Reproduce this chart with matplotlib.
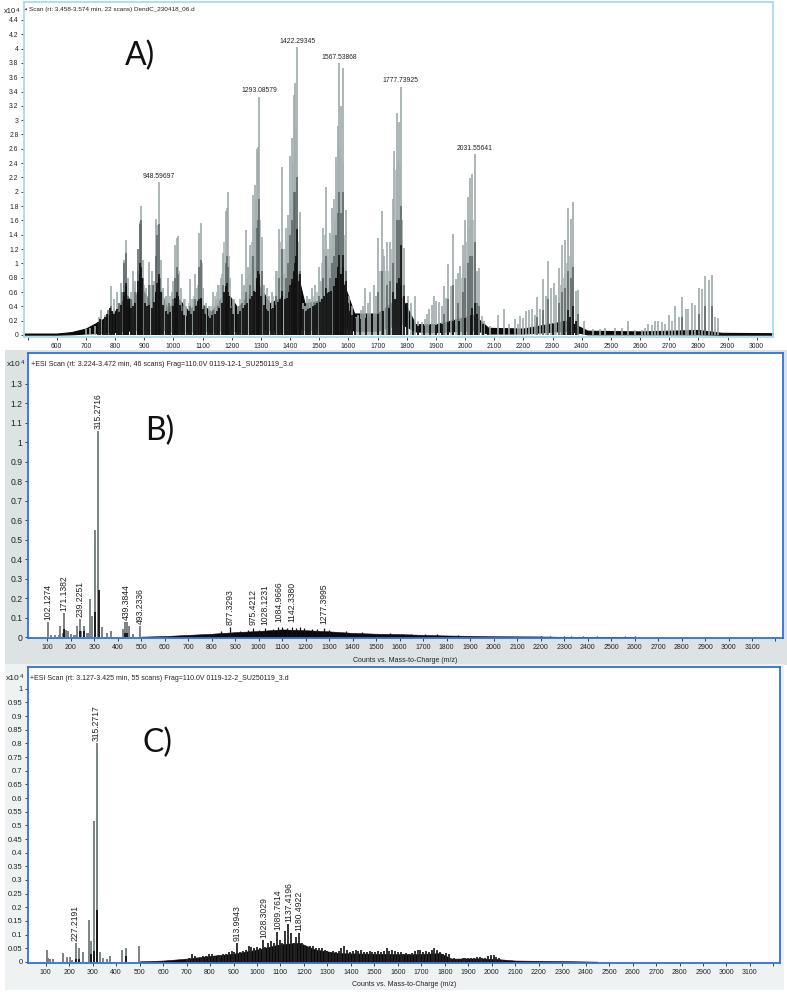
#!/usr/bin/env python3

import matplotlib
matplotlib.use('Agg')
import matplotlib.pyplot as plt
import matplotlib.ticker as ticker
from matplotlib.patches import Rectangle

W, H = 787, 992

# panel A: tall grey stems
a_mz = [700, 715, 730, 745, 752, 765, 775, 785, 795, 806, 815, 822, 830, 838, 845, 855, 862, 870, 878, 885, 890, 895, 905,
        915, 922, 928, 935, 941, 945, 950, 958, 966, 975, 983, 994, 1000, 1006, 1011, 1017, 1025, 1035, 1045, 1057, 1066,
        1074, 1080, 1087, 1095, 1103, 1112, 1122, 1137, 1146, 1154, 1162, 1171, 1179, 1183, 1187, 1195, 1207, 1220, 1234,
        1241, 1248, 1256, 1263, 1269, 1274, 1280, 1286, 1291, 1294, 1304, 1312, 1320, 1329, 1337, 1351, 1361, 1373, 1379,
        1385, 1393, 1401, 1408, 1414, 1418, 1424, 1433, 1446, 1452, 1459, 1466, 1474, 1486, 1499, 1505, 1512, 1518, 1524,
        1530, 1537, 1545, 1551, 1557, 1563, 1569, 1576, 1583, 1592, 1602, 1611, 1626, 1634, 1642, 1650, 1658, 1666, 1674,
        1688, 1695, 1702, 1715, 1723, 1731, 1742, 1752, 1758, 1766, 1773, 1779, 1785, 1792, 1804, 1814, 1829, 1840, 1851,
        1863, 1871, 1878, 1886, 1895, 1902, 1911, 1920, 1927, 1935, 1943, 1951, 1959, 1968, 1976, 1984, 1993, 2001, 2009,
        2017, 2025, 2033, 2041, 2048, 2057, 2066, 2086, 2114, 2133, 2151, 2171, 2181, 2190, 2199, 2209, 2219, 2229, 2239,
        2247, 2258, 2268, 2277, 2286, 2295, 2304, 2313, 2323, 2333, 2343, 2353, 2362, 2371, 2381, 2389, 2407, 2440, 2463,
        2480, 2514, 2537, 2560, 2583, 2606, 2617, 2629, 2640, 2651, 2663, 2674, 2686, 2698, 2709, 2720, 2732, 2743, 2756,
        2766, 2777, 2787, 2801, 2812, 2823, 2835, 2846, 2857, 2869]
a_int = [0.08, 0.1, 0.13, 0.25, 0.35, 0.28, 0.3, 0.68, 0.5, 0.6, 0.45, 0.72, 1.05, 1.32, 0.8, 0.6, 0.9, 0.75, 0.9, 1.58, 1.8, 1.05, 0.65,
         1.02, 0.7, 0.9, 0.75, 1.62, 1.53, 2.13, 1.05, 0.65, 0.55, 0.8, 0.6, 0.75, 1.25, 1.35, 1.38, 0.65, 0.5, 0.4, 0.78, 0.5,
         0.85, 0.65, 1.42, 1.57, 0.65, 0.45, 0.4, 0.6, 0.5, 0.7, 0.8, 1.15, 1.73, 1.78, 2.0, 0.8, 0.5, 0.4, 0.85,
         0.7, 1.47, 0.95, 1.25, 1.1, 1.95, 2.1, 2.6, 2.62, 3.33, 1.37, 0.7, 0.65, 0.55, 0.6, 0.9, 1.48, 2.35, 0.85,
         1.5, 1.68, 2.5, 2.75, 3.35, 3.52, 4.02, 1.72, 0.45, 0.4, 0.55, 0.5, 0.65, 0.7, 0.95, 0.75, 1.5, 1.05, 2.07,
         1.2, 1.43, 1.78, 1.9, 2.48, 2.92, 3.8, 3.2, 3.73, 1.75, 0.55, 0.4, 0.25, 0.28, 0.35, 0.4, 0.65, 0.45, 0.6,
         0.7, 0.55, 1.36, 1.73, 1.1, 1.3, 1.3, 1.9, 2.57, 3.1, 2.98, 3.47, 1.6, 1.21, 0.55, 0.45, 0.54, 0.2, 0.18,
         0.22, 0.3, 0.36, 0.42, 0.54, 0.48, 0.46, 0.4, 0.68, 0.52, 0.99, 0.68, 1.41, 0.78, 0.87, 0.97, 1.25, 1.6, 1.93,
         2.19, 2.25, 2.53, 0.89, 0.93, 0.26, 0.2, 0.12, 0.28, 0.36, 0.16, 0.22, 0.16, 0.27, 0.24, 0.34, 0.35, 0.36, 0.28,
         0.53, 0.36, 0.78, 0.55, 1.03, 0.66, 0.72, 0.56, 0.93, 1.25, 1.33, 1.77, 1.62, 1.86, 0.62, 0.63, 0.2, 0.08, 0.08,
         0.1, 0.1, 0.1, 0.2, 0.07, 0.07, 0.1, 0.16, 0.14, 0.2, 0.19, 0.18, 0.16, 0.28, 0.2, 0.4, 0.25, 0.53, 0.36,
         0.36, 0.44, 0.42, 0.65, 0.64, 0.82, 0.77, 0.84, 0.25, 0.24]

# panel A: lower grey stems between the tall ones
a_fill_mz = [860, 868, 874, 900, 910, 925, 936, 965, 972, 988,
             1002, 1021, 1040, 1052, 1062, 1070, 1083, 1099, 1128, 1142,
             1150, 1158, 1166, 1175, 1190, 1203, 1227, 1238, 1252, 1259,
             1266, 1271, 1277, 1283, 1289, 1298, 1308, 1342, 1356, 1367,
             1381, 1389, 1397, 1405, 1411, 1416, 1421, 1428, 1470, 1480,
             1492, 1508, 1515, 1521, 1527, 1534, 1541, 1548, 1554, 1560,
             1566, 1572, 1580, 1588, 1708, 1719, 1727, 1737, 1747, 1755,
             1762, 1769, 1776, 1782, 1989, 1997, 2005, 2013, 2021, 2029,
             2329, 2338, 2348, 2358, 2366]
a_fill_int = [0.7, 0.65, 0.6, 0.7, 0.55, 0.6, 0.7, 0.6, 0.5, 0.55,
              0.6, 0.9, 0.5, 0.45, 0.5, 0.55, 0.7, 1.0, 0.4, 0.55,
              0.6, 0.7, 0.85, 1.3, 1.1, 0.5, 0.5, 0.6, 0.8, 0.85,
              1.0, 1.3, 1.5, 1.9, 2.1, 1.6, 0.7, 0.55, 0.9, 1.3,
              1.2, 1.3, 1.5, 1.9, 2.4, 2.6, 2.9, 1.3, 0.5, 0.55,
              0.6, 1.0, 1.2, 1.4, 1.0, 0.95, 1.2, 1.4, 1.6, 2.0,
              2.4, 2.6, 2.4, 1.4, 0.9, 1.2, 0.9, 0.9, 1.2, 1.7,
              2.3, 2.4, 2.4, 1.8, 0.8, 1.0, 1.3, 1.5, 1.6, 1.6,
              0.7, 0.8, 1.0, 1.1, 1.0]

# panel A: darker parts of the same stems
a_mid_mz = [775, 785, 795, 815, 825, 832, 838, 845, 855, 870, 880, 885, 890, 895, 915, 930, 941, 945, 950, 955, 985, 1000, 1006, 1011,
            1017, 1030, 1057, 1074, 1087, 1095, 1105, 1137, 1154, 1171, 1179, 1183, 1187, 1200, 1234, 1248, 1263, 1274, 1286,
            1291, 1294, 1304, 1320, 1351, 1361, 1373, 1385, 1393, 1401, 1408, 1414, 1418, 1424, 1433, 1459, 1486, 1499, 1512,
            1524, 1537, 1545, 1551, 1557, 1563, 1569, 1576, 1583, 1592, 1602, 1702, 1715, 1731, 1742, 1752, 1766, 1773, 1779,
            1792, 1927, 1943, 1959, 1976, 1993, 2001, 2009, 2017, 2025, 2033, 2041, 2048, 2247, 2268, 2286, 2323, 2333, 2343,
            2353, 2362, 2371, 2389, 2743, 2801, 2823, 2846]
a_mid_int = [0.35, 0.4, 0.3, 0.45, 0.6, 1.0, 1.15, 0.55, 0.5, 0.6, 1.2, 1.55, 1.6, 0.8, 0.7, 0.7, 1.1, 1.4, 1.55, 0.8, 0.45, 0.5, 0.8, 0.95,
             0.85, 0.4, 0.4, 0.5, 0.95, 1.05, 0.4, 0.35, 0.4, 0.7, 1.0, 1.1, 0.95, 0.4, 0.45, 0.6, 0.7, 1.1, 1.5,
             1.6, 1.9, 0.9, 0.35, 0.55, 0.8, 1.2, 0.8, 1.0, 1.4, 1.6, 2.0, 2.0, 2.2, 0.9, 0.35, 0.45, 0.55, 0.8,
             1.1, 0.8, 1.0, 1.1, 1.4, 1.7, 2.0, 1.7, 2.0, 0.9, 0.35, 0.6, 0.9, 0.7, 0.75, 1.0, 1.6, 1.6, 1.8,
             0.7, 0.3, 0.5, 0.7, 0.45, 0.6, 0.8, 1.0, 1.1, 1.1, 1.3, 0.45, 0.4, 0.25, 0.35, 0.5, 0.45, 0.6, 0.65,
             0.9, 0.8, 0.95, 0.3, 0.25, 0.3, 0.4, 0.4]

# panel A: black stems making up the rough top of the baseline band
a_jag_mz = [740, 750, 758, 766, 774, 782, 790, 798, 806, 814,
            822, 830, 838, 846, 854, 862, 870, 878, 886, 894,
            902, 910, 918, 926, 934, 942, 950, 958, 966, 974,
            982, 990, 998, 1006, 1014, 1022, 1030, 1038, 1046, 1054,
            1062, 1070, 1078, 1086, 1094, 1102, 1110, 1118, 1126, 1134,
            1142, 1150, 1158, 1166, 1174, 1182, 1190, 1198, 1206, 1214,
            1222, 1230, 1238, 1246, 1254, 1262, 1270, 1278, 1286, 1294,
            1302, 1310, 1318, 1326, 1334, 1342, 1350, 1358, 1366, 1374,
            1382, 1390, 1398, 1406, 1414, 1422, 1430, 1438, 1446, 1454,
            1462, 1470, 1478, 1486, 1494, 1502, 1510, 1518, 1526, 1534,
            1542, 1550, 1558, 1566, 1574, 1582, 1590, 1598, 1606, 1614,
            1622, 1640, 1660, 1680, 1700, 1720, 1740, 1760, 1780, 1800,
            1820, 1840, 1860, 1880, 1900, 1920, 1940, 1960, 1980, 2000,
            2020, 2040, 2060, 2080, 2300, 2340, 2360, 2380]
a_jag_int = [0.18, 0.22, 0.2, 0.25, 0.3, 0.38, 0.34, 0.3, 0.36, 0.32,
             0.42, 0.55, 0.68, 0.5, 0.38, 0.4, 0.45, 0.6, 0.85, 0.8,
             0.45, 0.4, 0.42, 0.38, 0.46, 0.6, 0.78, 0.6, 0.42, 0.34,
             0.3, 0.32, 0.4, 0.52, 0.55, 0.42, 0.34, 0.28, 0.26, 0.34,
             0.3, 0.34, 0.4, 0.48, 0.5, 0.36, 0.3, 0.26, 0.24, 0.28,
             0.3, 0.34, 0.38, 0.45, 0.6, 0.68, 0.55, 0.38, 0.3, 0.28,
             0.3, 0.34, 0.38, 0.42, 0.44, 0.5, 0.55, 0.62, 0.8, 0.8,
             0.55, 0.42, 0.36, 0.34, 0.36, 0.38, 0.42, 0.46, 0.5, 0.55,
             0.5, 0.52, 0.6, 0.72, 0.9, 1.1, 0.75, 0.45, 0.36, 0.34,
             0.36, 0.38, 0.4, 0.42, 0.45, 0.46, 0.5, 0.55, 0.58, 0.6,
             0.62, 0.68, 0.8, 0.95, 0.85, 0.95, 0.7, 0.45, 0.34, 0.28,
             0.24, 0.22, 0.24, 0.26, 0.3, 0.34, 0.38, 0.5, 0.7, 0.45,
             0.2, 0.13, 0.13, 0.14, 0.14, 0.16, 0.18, 0.2, 0.2, 0.24,
             0.28, 0.3, 0.16, 0.1, 0.16, 0.2, 0.25, 0.2]

a_core_mz = [832, 838, 845, 880, 885, 890, 941, 945, 950, 1006, 1011, 1017, 1087, 1095, 1179, 1183, 1187, 1280, 1286, 1291, 1294, 1373,
             1401, 1408, 1414, 1418, 1424, 1433, 1524, 1557, 1563, 1569, 1576, 1583, 1592, 1752, 1766, 1773, 1779, 1792, 2025,
             2033, 2353, 2371]
a_core_int = [0.6, 0.72, 0.45, 0.75, 1.0, 0.95, 0.6, 0.72, 0.85, 0.45, 0.6, 0.55, 0.5, 0.52, 0.65, 0.72, 0.6, 0.6, 0.75, 0.9, 0.85, 0.62,
              0.7, 0.78, 0.85, 1.0, 1.48, 0.85, 0.65, 0.8, 0.9, 1.12, 0.85, 1.12, 0.75, 0.6, 0.72, 0.8, 1.25, 0.55, 0.38,
              0.45, 0.35, 0.4]

# panel A: black band along the baseline
a_band_mz = [488, 600, 650, 700, 750, 780, 800, 840, 860, 885, 920, 950, 980, 1015, 1050, 1090, 1130, 1180, 1220, 1290, 1330, 1380, 1420,
             1450, 1500, 1570, 1620, 1700, 1780, 1830, 1900, 2030, 2080, 2200, 2350, 2420, 2600, 2800, 2880, 3056]
a_band_top = [0.02, 0.02, 0.04, 0.09, 0.2, 0.28, 0.33, 0.56, 0.42, 0.7, 0.45, 0.68, 0.36, 0.52, 0.34, 0.46, 0.32, 0.62, 0.38, 0.72, 0.44, 0.55, 0.95,
              0.44, 0.48, 0.88, 0.3, 0.3, 0.55, 0.15, 0.15, 0.28, 0.1, 0.09, 0.2, 0.06, 0.05, 0.07, 0.03, 0.025]
a_band_low = [0.005, 0.005, 0.01, 0.02, 0.03, 0.04, 0.04, 0.07, 0.05, 0.09, 0.06, 0.1, 0.05, 0.07, 0.05, 0.07, 0.05, 0.08, 0.05, 0.09, 0.07, 0.08,
              0.13, 0.07, 0.08, 0.14, 0.06, 0.06, 0.16, 0.05, 0.04, 0.07, 0.02, 0.02, 0.06, 0.01, 0.01, 0.01, 0.005, 0.005]

a_labels = ['948.59697', '1293.08579', '1422.29345', '1567.53868', '1777.73925', '2031.55641']
a_label_mz = [950, 1294, 1424, 1569, 1779, 2033]
a_label_int = [2.13, 3.33, 4.02, 3.8, 3.47, 2.53]

# panel B
b_mz = [102, 115, 135, 148, 155, 165, 171, 178, 189, 200, 212, 222, 228, 239, 245, 258, 268, 275, 284, 292, 303, 316, 331, 353, 371, 421,
        431, 441, 449, 466, 494]
b_int = [0.08, 0.01, 0.01, 0.01, 0.055, 0.02, 0.125, 0.035, 0.03, 0.015, 0.01, 0.012, 0.06, 0.095, 0.03, 0.06, 0.02, 0.02, 0.195, 0.11,
         0.55, 1.06, 0.05, 0.02, 0.03, 0.04, 0.08, 0.08, 0.055, 0.015, 0.055]
b_dark_mz = [171, 239, 258, 303, 319, 431, 441]
b_dark_int = [0.04, 0.03, 0.03, 0.13, 0.24, 0.02, 0.02]
b_band_mz = [500, 600, 700, 800, 900, 1000, 1100, 1200, 1300, 1400, 1500, 1600, 1700, 1800, 1900, 2000, 2200, 2300, 2500, 2600]
b_band_int = [0.003, 0.006, 0.012, 0.018, 0.026, 0.032, 0.04, 0.036, 0.03, 0.022, 0.018, 0.016, 0.012, 0.009, 0.007, 0.005, 0.004, 0.002,
              0.001, 0.0]
b_spike_mz = [840, 877, 920, 955, 975, 1000, 1028, 1060, 1084, 1100, 1120, 1142, 1160, 1177, 1195, 1225, 1250, 1277, 1300, 1370,
              1440, 1560, 1650, 1710, 1760, 1850, 2200, 2240, 2300, 2330, 2380, 2440, 2560, 2600, 2840, 2890]
b_spike_int = [0.03, 0.05, 0.032, 0.035, 0.045, 0.037, 0.045, 0.042, 0.052, 0.05, 0.045, 0.05, 0.045, 0.052, 0.048, 0.04, 0.04, 0.045, 0.036,
               0.032, 0.025, 0.022, 0.018, 0.016, 0.014, 0.01, 0.005, 0.005, 0.004, 0.004, 0.004, 0.004, 0.004, 0.004, 0.003, 0.003]
b_labels = ['102.1274', '171.1382', '239.2251', '315.2716', '439.3844', '493.2336', '877.3293', '975.4212', '1028.1231', '1084.9666',
            '1142.3380', '1277.3995']
b_label_mz = [102, 171, 239, 316, 436, 494, 877, 975, 1028, 1084, 1142, 1277]
b_label_int = [0.08, 0.125, 0.095, 1.06, 0.08, 0.055, 0.05, 0.05, 0.05, 0.065, 0.065, 0.055]

# panel C
c_mz = [104, 111, 118, 133, 175, 189, 204, 212, 229, 242, 260, 286, 293, 306, 318, 333, 346, 363, 374, 424, 442, 496]
c_int = [0.043, 0.015, 0.012, 0.012, 0.032, 0.018, 0.018, 0.008, 0.07, 0.05, 0.037, 0.152, 0.078, 0.515, 0.8, 0.037, 0.015, 0.01, 0.02,
         0.042, 0.05, 0.057]
c_dark_mz = [229, 242, 293, 306, 318, 442]
c_dark_int = [0.012, 0.012, 0.03, 0.04, 0.19, 0.02]
c_band_mz = [500, 600, 700, 800, 900, 1000, 1100, 1180, 1250, 1350, 1500, 1650, 1780, 1830, 1950, 2030, 2100, 2300, 2450]
c_band_int = [0.002, 0.005, 0.012, 0.022, 0.03, 0.045, 0.065, 0.07, 0.045, 0.032, 0.03, 0.028, 0.032, 0.012, 0.013, 0.01, 0.005, 0.003, 0.001]
c_spike_mz = [700, 712, 724, 736, 748, 760, 772, 784, 796, 808,
              820, 832, 844, 856, 868, 880, 892, 904, 916, 928,
              940, 952, 964, 976, 988, 1000, 1012, 1024, 1036, 1048,
              1060, 1072, 1084, 1096, 1108, 1120, 1132, 1144, 1156, 1168,
              1180, 1192, 1204, 1216, 1228, 1240, 1252, 1264, 1276, 1288,
              1300, 1312, 1324, 1336, 1348, 1360, 1372, 1384, 1396, 1408,
              1420, 1432, 1444, 1456, 1468, 1480, 1492, 1504, 1516, 1528,
              1540, 1552, 1564, 1576, 1588, 1600, 1612, 1624, 1636, 1648,
              1660, 1672, 1684, 1696, 1708, 1720, 1732, 1744, 1756, 1768,
              1780, 1792, 1804, 1816, 1828, 1840, 1852, 1864, 1876, 1888,
              1900, 1912, 1924, 1936, 1948, 1960, 1972, 1984, 1996, 2008,
              2020, 2032, 2044]
c_spike_int = [0.012, 0.016, 0.028, 0.02, 0.016, 0.016, 0.02, 0.022, 0.03, 0.028,
               0.022, 0.024, 0.02, 0.03, 0.028, 0.036, 0.04, 0.035, 0.07, 0.038,
               0.04, 0.045, 0.06, 0.055, 0.05, 0.055, 0.05, 0.08, 0.055, 0.07,
               0.075, 0.07, 0.11, 0.08, 0.07, 0.115, 0.14, 0.105, 0.07, 0.09,
               0.105, 0.07, 0.06, 0.055, 0.058, 0.06, 0.05, 0.05, 0.05, 0.045,
               0.04, 0.038, 0.04, 0.035, 0.04, 0.05, 0.058, 0.045, 0.035, 0.04,
               0.042, 0.04, 0.042, 0.038, 0.035, 0.04, 0.035, 0.038, 0.04, 0.035,
               0.04, 0.052, 0.04, 0.045, 0.04, 0.036, 0.038, 0.03, 0.032, 0.03,
               0.034, 0.04, 0.042, 0.045, 0.035, 0.04, 0.038, 0.045, 0.05, 0.045,
               0.036, 0.03, 0.034, 0.03, 0.012, 0.014, 0.012, 0.012, 0.014, 0.014,
               0.014, 0.014, 0.016, 0.018, 0.018, 0.016, 0.014, 0.022, 0.026, 0.024,
               0.018, 0.014, 0.008]
c_labels = ['227.2191', '315.2717', '913.9943', '1028.3029', '1089.7614', '1137.4196', '1180.4922']
c_label_mz = [227, 316, 914, 1028, 1089, 1137, 1180]
c_label_int = [0.07, 0.8, 0.07, 0.08, 0.11, 0.14, 0.105]

a_yticks = [0, 0.2, 0.4, 0.6, 0.8, 1, 1.2, 1.4, 1.6, 1.8, 2, 2.2, 2.4, 2.6, 2.8, 3, 3.2, 3.4, 3.6, 3.8, 4, 4.2, 4.4]
b_yticks = [0, 0.1, 0.2, 0.3, 0.4, 0.5, 0.6, 0.7, 0.8, 0.9, 1, 1.1, 1.2, 1.3]
c_yticks = [0, 0.05, 0.1, 0.15, 0.2, 0.25, 0.3, 0.35, 0.4, 0.45, 0.5, 0.55, 0.6, 0.65, 0.7, 0.75, 0.8, 0.85, 0.9, 0.95, 1]

sans = ['Liberation Sans', 'DejaVu Sans']


def px(size):
    # font size in points for a height in pixels at 100 dpi
    return size * 0.72


def panel_axes(fig, left, top, right, bottom, xlim, ylim, frame, xticks, xlabels, yticks, xsize, ysize):
    ax = fig.add_axes([left / W, 1 - bottom / H, (right - left) / W, (bottom - top) / H])
    ax.set_xlim(xlim)
    ax.set_ylim(ylim)
    ax.patch.set_facecolor('white')
    for spine in ax.spines.values():
        spine.set_color(frame)
        spine.set_linewidth(1.3)
    ax.set_xticks(xticks)
    ax.set_xticklabels(xlabels, family=sans)
    ax.set_yticks(yticks)
    ax.yaxis.set_major_formatter(ticker.FormatStrFormatter('%g'))
    ax.tick_params(length=2.5, width=0.6, color='#222222', labelcolor='#222222', pad=1.5)
    ax.tick_params(axis='x', labelsize=px(xsize))
    ax.tick_params(axis='y', labelsize=px(ysize))
    for label in ax.get_yticklabels():
        label.set_family(sans)
    return ax


def background(fig, x0, y0, x1, y1, color):
    fig.add_artist(Rectangle((x0 / W, 1 - y1 / H), (x1 - x0) / W, (y1 - y0) / H, transform=fig.transFigure,
                             facecolor=color, edgecolor='none', zorder=-5))


def stems(ax, mz, values, color, width):
    ax.vlines(mz, 0, values, colors=color, linewidth=width)


def labels(ax, texts, mz, values, rotation, size):
    for text, x, y in zip(texts, mz, values):
        ax.annotate(text, (x, y), xytext=(0, 1.5), textcoords='offset points', ha='center', va='bottom',
                    rotation=rotation, family=sans, fontsize=px(size), color='#222222')


fig = plt.figure(figsize=(W / 100, H / 100), dpi=100)
fig.patch.set_facecolor('white')

background(fig, 5, 350, 787, 665, '#dde3e3')
background(fig, 5, 664, 784, 990, '#eff2f2')

hundreds = list(range(100, 3300, 100))


# panel A

ax = panel_axes(fig, 24, 2, 773, 337, (488, 3056), (-0.028, 4.65), '#a9d9f2',
                list(range(500, 3100, 100)), [''] + [str(v) for v in range(600, 3100, 100)], a_yticks, 6.8, 6.8)
stems(ax, a_mz, a_int, '#a0aaaa', 1.2)
stems(ax, a_fill_mz, a_fill_int, '#a8b1b1', 1.1)
stems(ax, a_mid_mz, a_mid_int, '#5a6464', 1.1)
stems(ax, a_jag_mz, a_jag_int, '#111111', 1.3)
stems(ax, a_core_mz, a_core_int, '#111111', 1.2)
ax.fill_between(a_band_mz, a_band_low, a_band_top, color='#0a0a0a', linewidth=0.8)
labels(ax, a_labels, a_label_mz, a_label_int, 0, 6.8)
fig.text(25 / W, 1 - 10 / H, '▪ Scan (rt: 3.458-3.574 min, 22 scans) DendC_230418_06.d', family=sans,
         fontsize=px(6.4), color='#222222', va='center')
fig.text(4 / W, 1 - 11.5 / H, 'x10', family=sans, fontsize=px(7.5), color='#222222', va='center')
fig.text(16 / W, 1 - 10 / H, '4', family=sans, fontsize=px(6), color='#222222', va='center')
fig.text(125 / W, 1 - 65 / H, 'A)', family='Lato', fontsize=23, color='#111111', va='baseline')


# panel B

ax = panel_axes(fig, 28, 353, 783, 638, (18, 3232), (-0.004, 1.458), '#2f6fdc',
                hundreds, [str(v) for v in hundreds[:-1]] + [''], b_yticks, 7.0, 8.6)
ax.fill_between(b_band_mz, 0, b_band_int, color='#0a0a0a', linewidth=0.4)
stems(ax, b_spike_mz, b_spike_int, '#111111', 0.9)
stems(ax, b_mz, b_int, '#707b7b', 1.3)
stems(ax, b_dark_mz, b_dark_int, '#111111', 1.3)
labels(ax, b_labels, b_label_mz, b_label_int, 90, 8.7)
fig.text(31 / W, 1 - 364 / H, '+ESI Scan (rt: 3.224-3.472 min, 46 scans) Frag=110.0V 0119-12-1_SU250119_3.d', family=sans,
         fontsize=px(7.1), color='#222222', va='center')
fig.text(7 / W, 1 - 365 / H, 'x10', family=sans, fontsize=px(8.5), color='#222222', va='center')
fig.text(21 / W, 1 - 363 / H, '4', family=sans, fontsize=px(6), color='#222222', va='center')
fig.text(405 / W, 1 - 660 / H, 'Counts vs. Mass-to-Charge (m/z)', family=sans, fontsize=px(7), color='#222222',
         ha='center', va='center')
fig.text(145 / W, 1 - 440 / H, 'B)', family='Lato', fontsize=23, color='#111111', va='baseline')


# panel C

ax = panel_axes(fig, 28, 667, 780, 963, (24.6, 3228), (-0.004, 1.08), '#2f6fdc',
                hundreds, [str(v) for v in hundreds[:-1]] + [''], c_yticks, 7.0, 7.6)
ax.fill_between(c_band_mz, 0, c_band_int, color='#0a0a0a', linewidth=0.4)
stems(ax, c_spike_mz, c_spike_int, '#222222', 1.3)
stems(ax, c_mz, c_int, '#707b7b', 1.3)
stems(ax, c_dark_mz, c_dark_int, '#111111', 1.3)
labels(ax, c_labels, c_label_mz, c_label_int, 90, 8.7)
fig.text(30 / W, 1 - 678 / H, '+ESI Scan (rt: 3.127-3.425 min, 55 scans) Frag=110.0V 0119-12-2_SU250119_3.d', family=sans,
         fontsize=px(7.05), color='#222222', va='center')
fig.text(6 / W, 1 - 678 / H, 'x10', family=sans, fontsize=px(8.5), color='#222222', va='center')
fig.text(20 / W, 1 - 676 / H, '4', family=sans, fontsize=px(6), color='#222222', va='center')
fig.text(404 / W, 1 - 984 / H, 'Counts vs. Mass-to-Charge (m/z)', family=sans, fontsize=px(7), color='#222222',
         ha='center', va='center')
fig.text(143 / W, 1 - 752 / H, 'C)', family='Lato', fontsize=23, color='#111111', va='baseline')

plt.savefig('out.png', dpi=100)
